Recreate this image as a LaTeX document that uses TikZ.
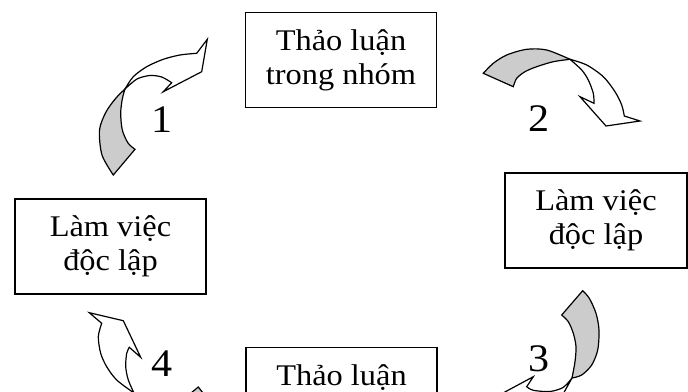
\documentclass[tikz,border=0pt]{standalone}
\usepackage{fontspec}
\setmainfont[FakeStretch=1.08]{Liberation Serif}
\definecolor{shade}{RGB}{204,204,204}
\tikzset{
  box/.style={draw=black, line width=1.3pt, fill=white, minimum width=191pt, minimum height=95pt,
              inner sep=0pt, align=center, font=\fontsize{30}{34}\selectfont},
  num/.style={font=\fontsize{39}{44}\selectfont, inner sep=0pt},
  front/.style={draw=black, line width=1.2pt, fill=white, line join=miter},
  back/.style={draw=black, line width=1.2pt, fill=shade, line join=miter},
}
\begin{document}
\begin{tikzpicture}[x=1pt,y=-1pt]
\useasboundingbox (0,0) rectangle (688,391);
\clip (0,0) rectangle (688,391);

% boxes
\node[box] (top) at (341,60) {Thảo luận\\trong nhóm};
\node[box] (left) at (110.5,246.5) {Làm việc\\độc lập};
\node[box, minimum width=182pt] (right) at (596,220.5) {Làm việc\\độc lập};
\node[box, anchor=north] (bottom) at (341.5,347) {Thảo luận\\\vphantom{trong nhóm}};

% arrow 1
\filldraw[back] plot[smooth] coordinates {(125,89) (116,98) (106,112) (99.5,130) (102,155) (113.3,175)}
  -- (135,149.3)
  -- plot[smooth] coordinates {(135,149.3) (128,143) (122.3,130) (120.7,113.3) (122.3,99) (125,89)} -- cycle;
\filldraw[front] plot[smooth] coordinates {(125,89) (133.3,76.7) (146.7,66.7) (163.3,59.3) (180,55) (196.7,53.3)}
  -- (207.3,39.3) -- (201.7,71.7) -- (163.3,91.7) -- (171.7,82.7)
  -- plot[smooth] coordinates {(171.7,82.7) (161.7,77) (150,75.5) (137,79) (125,89)} -- cycle;

% arrow 2
\filldraw[back] (483.3,73.3)
  -- plot[smooth] coordinates {(483.3,73.3) (493.3,63.3) (506.7,55) (526.7,49.3) (546.7,50) (570,59.3)}
  -- plot[smooth] coordinates {(570,59.3) (553.3,61.7) (536.7,66.7) (525,71.7) (516.7,78.3) (513.3,86.7)} -- cycle;
\filldraw[front] plot[smooth] coordinates {(570,59.3) (586.7,65) (603.3,76.7) (615,91.7) (621.7,105) (624.3,116)}
  -- (640,121) -- (606,126) -- (580,96.7) -- (594,103.3)
  -- plot[smooth] coordinates {(594,103.3) (593.3,93.3) (588.3,80) (581.7,70) (570,59.3)} -- cycle;

% arrow 3
\filldraw[back] (561.7,315)
  -- plot[smooth] coordinates {(561.7,315) (568.3,321.7) (573.3,333.3) (576,346.7) (575,361.7) (572,378)}
  -- plot[smooth] coordinates {(572,378) (581.7,375) (591.7,365) (597.7,350) (599,330) (596,313.3) (589.3,298.3) (582.7,290.7)} -- cycle;
\filldraw[front] (572,378) -- (562,396) -- (555,410) -- (490,410) -- (490,400) -- (533.3,376.7) -- (526.7,386.7)
  -- plot[smooth] coordinates {(526.7,386.7) (533.3,390.3) (550,391.5) (563.3,387.3) (572,378)} -- cycle;

% arrow 4
\filldraw[back] (180,402) -- (198.3,387) -- (210,402) -- cycle;
\filldraw[front] (89.3,312.7) -- (101.7,323.3)
  -- plot[smooth] coordinates {(101.7,323.3) (98.3,336.7) (100.7,353.3) (106.7,366.7) (116.7,380) (134,393)}
  -- plot[smooth] coordinates {(134,393) (128.3,380) (125.7,366.7) (126.7,353.3) (129.3,347.3)}
  -- (140.7,357.3) -- (123.3,320.7) -- cycle;

% numbers
\node[num] (n1) at (162.5,119.7) {1};
\node[num] (n2) at (539.3,118.8) {2};
\node[num] (n3) at (539,359) {3};
\node[num] (n4) at (162,364) {4};
\end{tikzpicture}
\end{document}
